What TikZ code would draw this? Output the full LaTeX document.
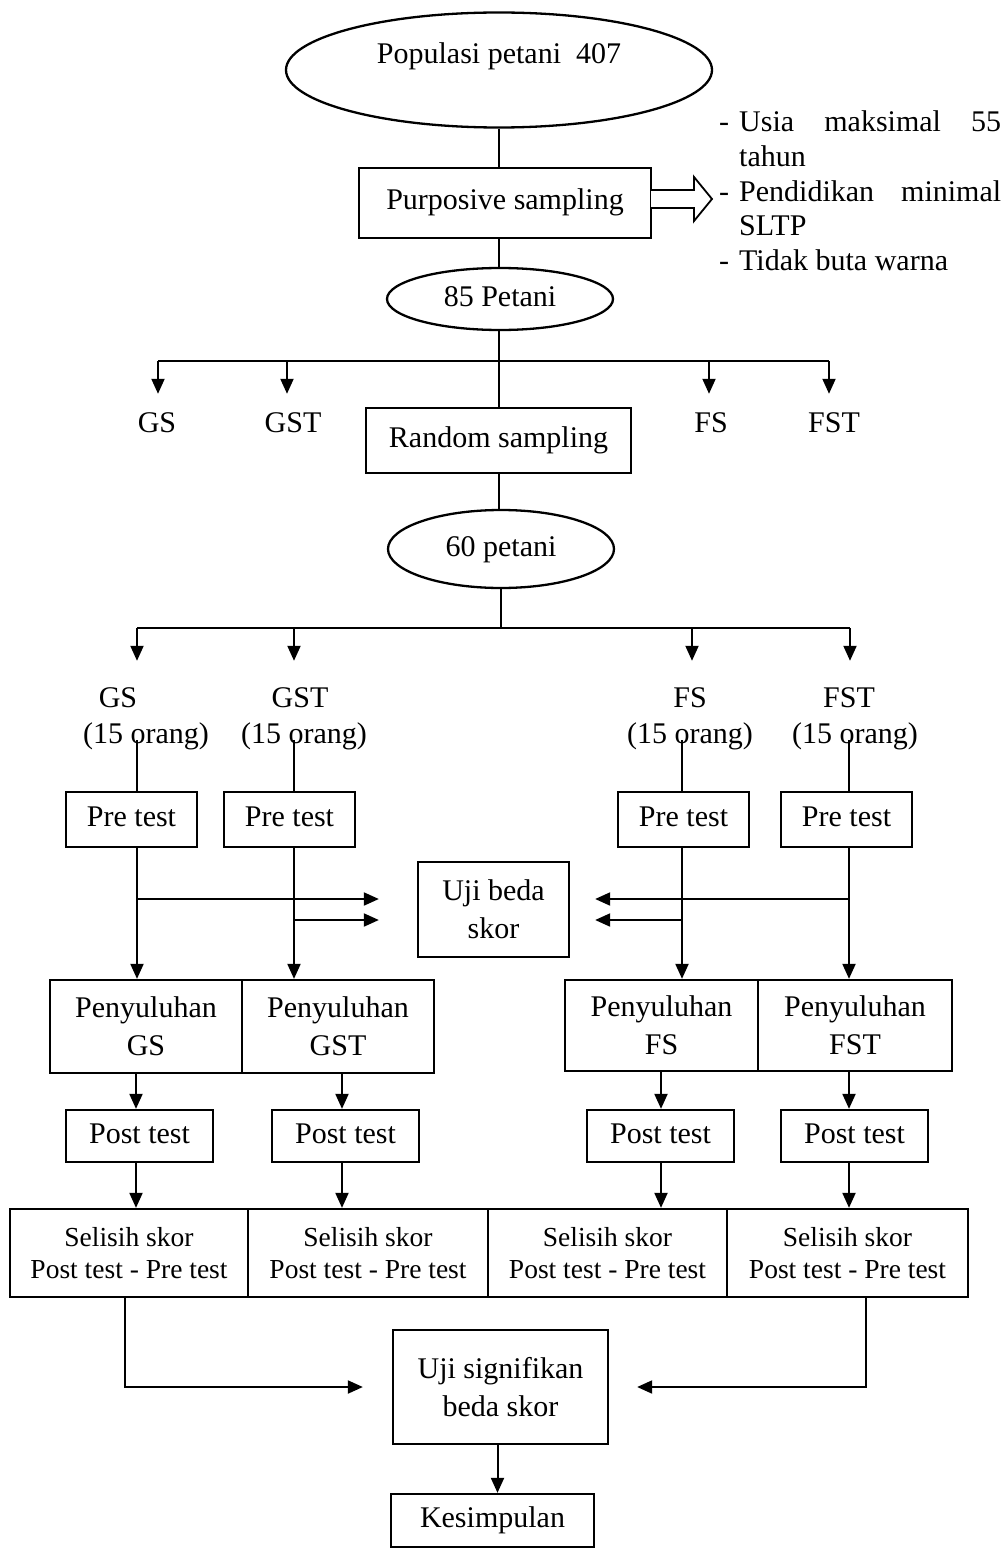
\documentclass[tikz,border=0pt]{standalone}
\usepackage{fontspec}
\setmainfont{Liberation Serif}
\usetikzlibrary{arrows.meta,shapes.geometric,calc}
\begin{document}
\begin{tikzpicture}[x=1pt,y=-1pt,
  every node/.style={font=\fontsize{30}{38}\selectfont, inner sep=0pt},
  one/.style={text height=21pt, text depth=7pt},
  box/.style={draw, line width=2.3pt, one},
  mbox/.style={draw, line width=2.3pt, align=center},
  ell/.style={draw, ellipse, line width=2.3pt, one},
  sel/.style={draw, line width=2.3pt, align=center, font=\fontsize{27.5}{32}\selectfont},
  conn/.style={line width=2pt},
  arr/.style={line width=2pt, -{Triangle[length=15pt,width=13pt]}}
]
\fill[white] (0,0) rectangle (1003,1549);
\useasboundingbox (0,0) rectangle (1003,1549);

% top part
\node[ell, minimum width=426pt, minimum height=115pt] (pop) at (499,70) {};
\node[one] (poptext) at (499,57) {Populasi petani\ \ 407};
\node[box, minimum width=292pt, minimum height=70pt] (purp) at (505,203) {Purposive sampling};
\draw[conn] (pop.south) -- (pop.south |- purp.north);

% hollow block arrow
\draw[line width=1.8pt, fill=white] (651,190) -- (694,190) -- (694,177) -- (712,199) -- (694,221) -- (694,208) -- (651,208);

% criteria
\node[one, anchor=base west] (c1d) at (719,132) {-};
\node[one, anchor=base west] (c1) at (739,132) {\makebox[262pt][s]{Usia\hfill maksimal\hfill 55}};
\node[one, anchor=base west] (c2) at (739,166.5) {tahun};
\node[one, anchor=base west] (c3d) at (719,201) {-};
\node[one, anchor=base west] (c3) at (739,201) {\makebox[262pt][s]{Pendidikan\hfill minimal}};
\node[one, anchor=base west] (c4) at (739,235.5) {SLTP};
\node[one, anchor=base west] (c5d) at (719,270) {-};
\node[one, anchor=base west] (c5) at (739,270) {Tidak buta warna};

\node[ell, minimum width=226pt, minimum height=62pt] (p85) at (500,299) {85 Petani};
\draw[conn] (purp.south -| pop.south) -- (p85.north -| pop.south);

% first bar
\coordinate (b1a) at (158,361);
\coordinate (b1b) at (287,361);
\coordinate (b1c) at (709,361);
\coordinate (b1d) at (829,361);
\node[one] (gs1) at (157,425) {GS};
\node[one] (gst1) at (293,425) {GST};
\node[one] (fs1) at (711,425) {FS};
\node[one] (fst1) at (834,425) {FST};
\draw[conn] (b1a) -- (b1d);
\draw[arr, shorten >=17pt] (b1a) -- (b1a |- gs1.north);
\draw[arr, shorten >=17pt] (b1b) -- (b1b |- gst1.north);
\draw[arr, shorten >=17pt] (b1c) -- (b1c |- fs1.north);
\draw[arr, shorten >=17pt] (b1d) -- (b1d |- fst1.north);

\node[box, minimum width=265pt, minimum height=65pt] (rand) at (498.5,440.5) {Random sampling};
\draw[conn] (p85.south -| rand.north) -- (rand.north);
\node[ell, minimum width=226pt, minimum height=78pt] (p60) at (501,549) {60 petani};
\draw[conn] (rand.south) -- (rand.south |- p60.north);

% second bar
\coordinate (b2a) at (137,628);
\coordinate (b2b) at (294,628);
\coordinate (b2c) at (692,628);
\coordinate (b2d) at (850,628);
\draw[conn] (p60.south) -- (p60.south |- b2a);
\draw[conn] (b2a) -- (b2d);
\node[one] (gs2) at (118,700) {GS};
\node[one] (gs2n) at (146,736) {(15 orang)};
\node[one] (gst2) at (300,700) {GST};
\node[one] (gst2n) at (304,736) {(15 orang)};
\node[one] (fs2) at (690,700) {FS};
\node[one] (fs2n) at (690,736) {(15 orang)};
\node[one] (fst2) at (849,700) {FST};
\node[one] (fst2n) at (855,736) {(15 orang)};
\draw[arr, shorten >=25pt] (b2a) -- (b2a |- gs2.north);
\draw[arr, shorten >=25pt] (b2b) -- (b2b |- gst2.north);
\draw[arr, shorten >=25pt] (b2c) -- (b2c |- fs2.north);
\draw[arr, shorten >=25pt] (b2d) -- (b2d |- fst2.north);

% pre test
\node[box, minimum width=131pt, minimum height=55pt] (preGS) at (131.5,819.5) {Pre test};
\node[box, minimum width=131pt, minimum height=55pt] (preGST) at (289.5,819.5) {Pre test};
\node[box, minimum width=131pt, minimum height=55pt] (preFS) at (683.5,819.5) {Pre test};
\node[box, minimum width=131pt, minimum height=55pt] (preFST) at (846.5,819.5) {Pre test};
\coordinate (v1) at (137,740);
\coordinate (v2) at (294,740);
\coordinate (v3) at (682,740);
\coordinate (v4) at (849,740);
\draw[conn] (v1) -- (v1 |- preGS.north);
\draw[conn] (v2) -- (v2 |- preGST.north);
\draw[conn] (v3) -- (v3 |- preFS.north);
\draw[conn] (v4) -- (v4 |- preFST.north);

% uji beda
\node[mbox, minimum width=151pt, minimum height=95pt] (uji) at (493.5,909.5) {Uji beda\\skor};

% penyuluhan
\node[mbox, minimum width=192pt, minimum height=93pt] (penGS) at (146,1026.5) {Penyuluhan\\GS};
\node[mbox, minimum width=192pt, minimum height=93pt] (penGST) at (338,1026.5) {Penyuluhan\\GST};
\node[mbox, minimum width=193pt, minimum height=91pt] (penFS) at (661.5,1025.5) {Penyuluhan\\FS};
\node[mbox, minimum width=194pt, minimum height=91pt] (penFST) at (855,1025.5) {Penyuluhan\\FST};

\draw[arr] (v1 |- preGS.south) -- (v1 |- penGS.north);
\draw[arr] (v2 |- preGST.south) -- (v2 |- penGST.north);
\draw[arr] (v3 |- preFS.south) -- (v3 |- penFS.north);
\draw[arr] (v4 |- preFST.south) -- (v4 |- penFST.north);

\coordinate (h1) at (137,899);
\coordinate (h2) at (294,920);
\coordinate (h3) at (682,920);
\coordinate (h4) at (849,899);
\draw[arr, shorten >=38pt] (h1) -- (h1 -| uji.west);
\draw[arr, shorten >=38pt] (h2) -- (h2 -| uji.west);
\draw[arr, shorten >=25pt] (h3) -- (h3 -| uji.east);
\draw[arr, shorten >=25pt] (h4) -- (h4 -| uji.east);

% post test
\node[box, minimum width=147pt, minimum height=52pt] (postGS) at (139.5,1136) {Post test};
\node[box, minimum width=147pt, minimum height=52pt] (postGST) at (345.5,1136) {Post test};
\node[box, minimum width=147pt, minimum height=52pt] (postFS) at (660.5,1136) {Post test};
\node[box, minimum width=147pt, minimum height=52pt] (postFST) at (854.5,1136) {Post test};
\coordinate (w1) at (136,1136);
\coordinate (w2) at (342,1136);
\coordinate (w3) at (661,1136);
\coordinate (w4) at (849,1136);
\draw[arr] (w1 |- penGS.south) -- (w1 |- postGS.north);
\draw[arr] (w2 |- penGST.south) -- (w2 |- postGST.north);
\draw[arr] (w3 |- penFS.south) -- (w3 |- postFS.north);
\draw[arr] (w4 |- penFST.south) -- (w4 |- postFST.north);

% selisih
\node[sel, minimum width=238pt, minimum height=88pt] (selGS) at (129,1253) {Selisih skor\\Post test - Pre test};
\node[sel, minimum width=240pt, minimum height=88pt] (selGST) at (368,1253) {Selisih skor\\Post test - Pre test};
\node[sel, minimum width=239pt, minimum height=88pt] (selFS) at (607.5,1253) {Selisih skor\\Post test - Pre test};
\node[sel, minimum width=241pt, minimum height=88pt] (selFST) at (847.5,1253) {Selisih skor\\Post test - Pre test};
\draw[arr] (w1 |- postGS.south) -- (w1 |- selGS.north);
\draw[arr] (w2 |- postGST.south) -- (w2 |- selGST.north);
\draw[arr] (w3 |- postFS.south) -- (w3 |- selFS.north);
\draw[arr] (w4 |- postFST.south) -- (w4 |- selFST.north);

% uji signifikan
\node[mbox, minimum width=215pt, minimum height=114pt] (ujis) at (500.5,1387) {Uji signifikan\\beda skor};
\draw[arr, shorten >=29pt] ([xshift=-4pt]selGS.south) |- (ujis.west);
\draw[arr, shorten >=28pt] ([xshift=18.5pt]selFST.south) |- (ujis.east);

% kesimpulan
\node[box, minimum width=203pt, minimum height=53pt] (kes) at (492.5,1520.5) {Kesimpulan};
\draw[arr] ([xshift=-3pt]ujis.south) -- ([xshift=-3pt]ujis.south |- kes.north);
\end{tikzpicture}
\end{document}
